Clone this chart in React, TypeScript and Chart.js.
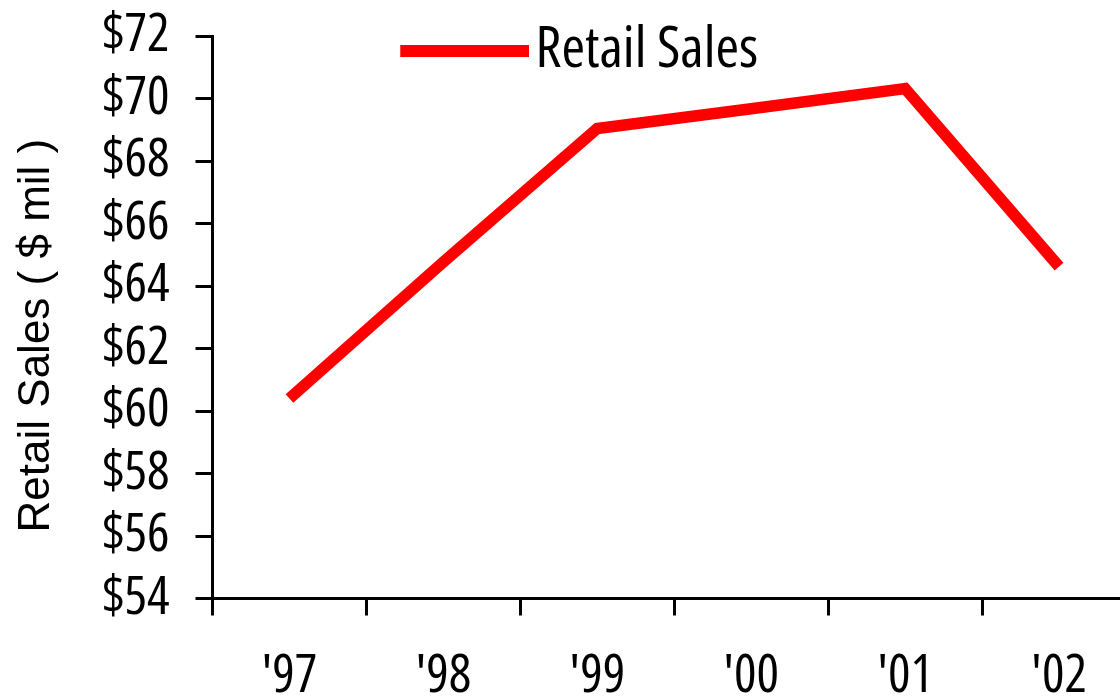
import React, { useEffect, useRef } from "react";
import { Chart, registerables } from "chart.js";

Chart.register(...registerables);

const categories = ["'97", "'98", "'99", "'00", "'01", "'02"];
const retailSales = [60.4, 64.77, 69.04, 69.67, 70.32, 64.62];
const yTickValues = [54, 56, 58, 60, 62, 64, 66, 68, 70, 72];
const seriesLabel = "Retail Sales";
const yAxisTitle = "Retail Sales ( $ mil )";

const NARROW = "'Open Sans', 'Liberation Sans', sans-serif";
const NARROW_WEIGHT = "condensed";
const SANS = "'Liberation Sans', Arial, sans-serif";

const RED = "#FF0000";

function makeSwatch(width: number, barStart: number, barWidth: number, height: number) {
  const c = document.createElement("canvas");
  c.width = width;
  c.height = height;
  const ctx = c.getContext("2d");
  if (ctx) {
    ctx.fillStyle = RED;
    ctx.fillRect(barStart, 0, barWidth, height);
  }
  return c;
}

export default function App() {
  const ref = useRef<HTMLCanvasElement | null>(null);

  useEffect(() => {
    if (!ref.current) return;
    const swatch = makeSwatch(317, 188, 129, 12);
    const chart = new Chart(ref.current, {
      type: "line",
      data: {
        labels: categories,
        datasets: [
          {
            label: seriesLabel,
            data: retailSales,
            borderColor: RED,
            backgroundColor: RED,
            borderWidth: 11.5,
            pointRadius: 0,
            pointHoverRadius: 0,
            tension: 0,
            borderCapStyle: "butt",
            borderJoinStyle: "miter",
            fill: false,
          },
        ],
      },
      options: {
        responsive: false,
        animation: false,
        devicePixelRatio: 1,
        layout: { padding: { left: 0, top: 36, right: 4, bottom: 0 } },
        plugins: {
          tooltip: { enabled: false },
          legend: {
            position: "chartArea",
            align: "start",
            labels: {
              usePointStyle: true,
              pointStyle: swatch,
              pointStyleWidth: 272.5,
              padding: 22,
              color: "#000",
              font: { family: NARROW, weight: NARROW_WEIGHT, size: 57 },
            },
          },
        },
        scales: {
          x: {
            offset: true,
            afterFit: (s: any) => {
              s.height = 101.5;
            },
            border: { display: true, color: "#000", width: 3 },
            grid: {
              offset: true,
              drawOnChartArea: false,
              drawTicks: true,
              tickLength: 17,
              tickWidth: 3,
              tickColor: "#000",
            },
            ticks: {
              color: "#000",
              font: { family: NARROW, weight: NARROW_WEIGHT, size: 53 },
              padding: 30,
              maxRotation: 0,
              autoSkip: false,
            },
          },
          y: {
            min: 54,
            max: 72,
            afterBuildTicks: (s: any) => {
              s.ticks = yTickValues.map((v) => ({ value: v }));
            },
            afterFit: (s: any) => {
              s.width = 212.5;
              s.paddingTop = 0;
              s.paddingBottom = 0;
            },
            border: { display: true, color: "#000", width: 3 },
            grid: {
              drawOnChartArea: false,
              drawTicks: true,
              tickLength: 17,
              tickWidth: 3,
              tickColor: "#000",
            },
            ticks: {
              color: "#000",
              font: { family: NARROW, weight: NARROW_WEIGHT, size: 53 },
              padding: 26,
              autoSkip: false,
              callback: (v: any) => "$" + v,
            },
            title: {
              display: true,
              text: yAxisTitle + "   ",
              color: "#000",
              font: { family: SANS, size: 44 },
              padding: { top: 10, bottom: 0 },
            },
          },
        },
      },
    } as any);
    return () => chart.destroy();
  }, []);

  return (
    <div
      style={{
        position: "fixed",
        left: 0,
        top: 0,
        width: 1120,
        height: 700,
        overflow: "hidden",
        background: "#fff",
      }}
    >
      <canvas ref={ref} width={1140} height={700} style={{ display: "block" }} />
    </div>
  );
}
